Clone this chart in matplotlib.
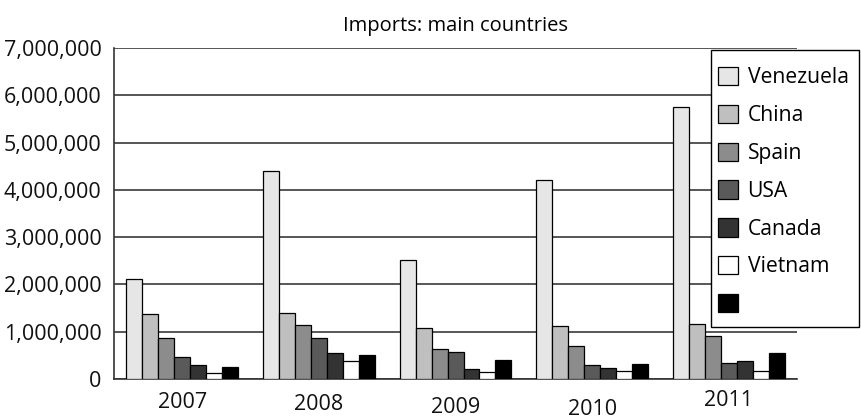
"""
Imports by main partner country, grouped bars per year.
"""

import numpy as np
import matplotlib.pyplot as plt
import matplotlib.transforms as mtransforms
from matplotlib.patches import Rectangle
from matplotlib.ticker import FuncFormatter

plt.rcParams['font.family'] = ['Open Sans', 'DejaVu Sans']

years = ['2007', '2008', '2009', '2010', '2011']
countries = ['Venezuela', 'China', 'Spain', 'USA', 'Canada', 'Vietnam', ' ']

venezuela = [2120000, 4410000, 2520000, 4200000, 5760000]
china = [1370000, 1390000, 1070000, 1120000, 1170000]
spain = [860000, 1150000, 640000, 690000, 910000]
usa = [470000, 860000, 580000, 300000, 340000]
canada = [300000, 550000, 210000, 230000, 390000]
vietnam = [120000, 390000, 150000, 170000, 160000]
other = [250000, 510000, 400000, 320000, 550000]

series = [venezuela, china, spain, usa, canada, vietnam, other]
colors = ['#e6e6e6', '#bfbfbf', '#8c8c8c', '#5a5a5a', '#333333', '#ffffff', '#000000']

W, H = 861, 418
fig = plt.figure(figsize=(W / 100, H / 100), dpi=100)
ax = fig.add_axes([0.1324, 0.0933, 0.7933, 0.7917])

x = np.arange(len(years))
width = 0.117
handles = []
for i, (vals, col) in enumerate(zip(series, colors)):
    offs = (i - (len(series) - 1) / 2) * width
    bars = ax.bar(x + offs, vals, width, color=col, edgecolor='black',
                  linewidth=0.9, zorder=3)
    handles.append(bars)

ax.set_xlim(-0.5, len(years) - 0.5)
ax.set_ylim(0, 7000000)
ax.set_yticks(np.arange(0, 7000001, 1000000))
ax.yaxis.set_major_formatter(FuncFormatter(lambda v, p: f'{int(v):,}'))
ax.set_xticks(x)
ax.set_xticklabels(years)
ax.tick_params(axis='both', length=0, labelsize=15.5, labelcolor='#111111')
ax.tick_params(axis='y', pad=9)
ax.tick_params(axis='x', pad=9)

# year labels sit at slightly uneven heights
shifts = [0, -2, -5, -7, 2]
for lab, dy in zip(ax.get_xticklabels(), shifts):
    lab.set_transform(lab.get_transform() +
                      mtransforms.ScaledTranslation(0, dy / 100, fig.dpi_scale_trans))

ax.grid(True, axis='y', color='#3a3a3a', linewidth=1.2, zorder=0)
ax.set_axisbelow(True)
for side in ['top', 'right']:
    ax.spines[side].set_visible(False)
for side in ['left', 'bottom']:
    ax.spines[side].set_color('#333333')
    ax.spines[side].set_linewidth(1.2)

ax.set_title('Imports: main countries', fontsize=14.5, pad=12)

# legend box drawn separately so its padding can differ per side
box = Rectangle((711 / W, 1 - 327 / H), 148 / W, 277 / H,
                transform=fig.transFigure, facecolor='white',
                edgecolor='black', linewidth=1.0, clip_on=False, zorder=4)
ax.add_patch(box)
leg = ax.legend(handles, countries, loc='upper left',
                bbox_to_anchor=(718 / W, 1 - 67 / H),
                bbox_transform=fig.transFigure, borderaxespad=0,
                fontsize=15.2, frameon=False, borderpad=0,
                handlelength=0.95, handleheight=0.95, handletextpad=0.45,
                labelspacing=0.78)
leg.set_zorder(5)

plt.savefig('out.png', dpi=100)
